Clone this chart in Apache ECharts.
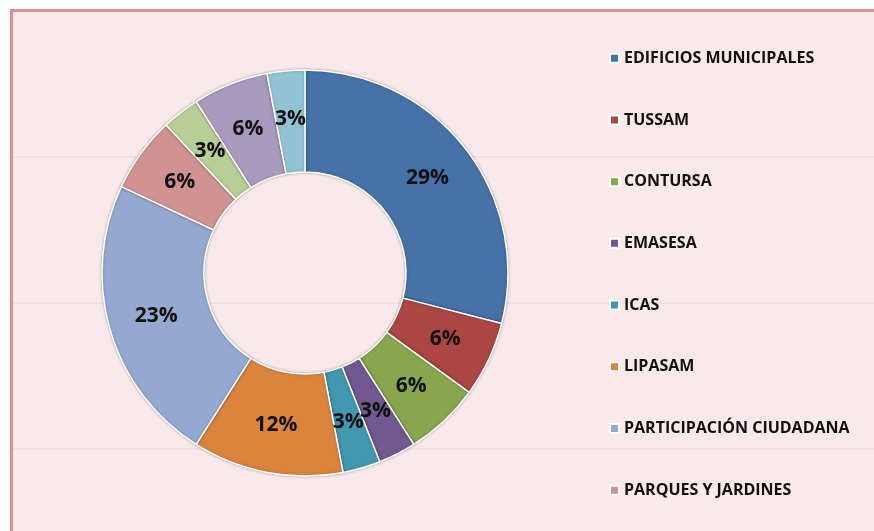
<!DOCTYPE html>
<html>
<head>
<meta charset="utf-8">
<script src="https://cdn.jsdelivr.net/npm/echarts@6/dist/echarts.min.js"></script>
<style>
	html, body { margin: 0; padding: 0; background: #fff; }
	.donut { width: 874px; height: 531px; }
</style>
</head>
<body>
<div class="donut"></div>
<script>
var names = ['EDIFICIOS MUNICIPALES', 'TUSSAM', 'CONTURSA', 'EMASESA', 'ICAS', 'LIPASAM',
	'PARTICIPACIÓN CIUDADANA', 'PARQUES Y JARDINES', 'OTROS 1', 'OTROS 2', 'OTROS 3'];
var values = [29, 6, 6, 3, 3, 12, 23, 6, 3, 6, 3];
var legendNames = names.slice(0, 8);
var colors = ['#4572a7', '#aa4643', '#89a54e', '#71588f', '#4198af', '#db843d',
	'#93a9cf', '#d19392', '#b9cd96', '#a99bbd', '#92c3d5'];

(function () {
	var myChart = echarts.init(document.querySelector('.donut'));
	var data = [];
	for (var i = 0; i < names.length; i++) {
		data.push({ name: names[i], value: values[i] });
	}
	var option = {
		color: colors,
		backgroundColor: '#fff',
		graphic: [
			{ type: 'rect', z: -10, shape: { x: 10, y: 9, width: 864, height: 522 }, style: { fill: '#f8e9ea' } },
			{ type: 'rect', z: -9, shape: { x: 10, y: 9, width: 864, height: 3 }, style: { fill: '#dd8f8f' } },
			{ type: 'rect', z: -9, shape: { x: 10, y: 9, width: 3, height: 522 }, style: { fill: '#dd8f8f' } },
			{ type: 'line', z: -9, shape: { x1: 13, y1: 157, x2: 874, y2: 157 }, style: { stroke: '#efd6d8', lineWidth: 1 } },
			{ type: 'line', z: -9, shape: { x1: 13, y1: 303, x2: 874, y2: 303 }, style: { stroke: '#efd6d8', lineWidth: 1 } },
			{ type: 'line', z: -9, shape: { x1: 13, y1: 449, x2: 874, y2: 449 }, style: { stroke: '#efd6d8', lineWidth: 1 } }
		],
		legend: {
			data: legendNames,
			orient: 'vertical',
			left: 604,
			top: 45,
			icon: 'rect',
			itemWidth: 9,
			itemHeight: 9,
			itemGap: 45.2,
			textStyle: {
				color: '#111',
				fontFamily: 'Open Sans',
				fontWeight: 'bold',
				fontSize: 16,
				lineHeight: 16.5
			}
		},
		series: [
			{
				type: 'pie',
				center: [305, 273],
				radius: [101, 203],
				startAngle: 90,
				clockwise: true,
				avoidLabelOverlap: false,
				labelLayout: { hideOverlap: false },
				itemStyle: {
					borderColor: '#fff',
					borderWidth: 1.5,
					shadowColor: 'rgba(0, 0, 0, 0.25)',
					shadowBlur: 3
				},
				label: {
					show: true,
					position: 'inside',
					color: '#111',
					fontFamily: 'Open Sans',
					fontWeight: 'bold',
					fontSize: 21
				},
				labelLine: { show: false },
				emphasis: { scale: false },
				data: data
			}
		]
	};
	option.series[0].label.formatter = function (p) {
		return Math.round(p.percent) + '%';
	};
	myChart.setOption(option);
	window.addEventListener('resize', function () {
		myChart.resize();
	});
})();
</script>
</body>
</html>
